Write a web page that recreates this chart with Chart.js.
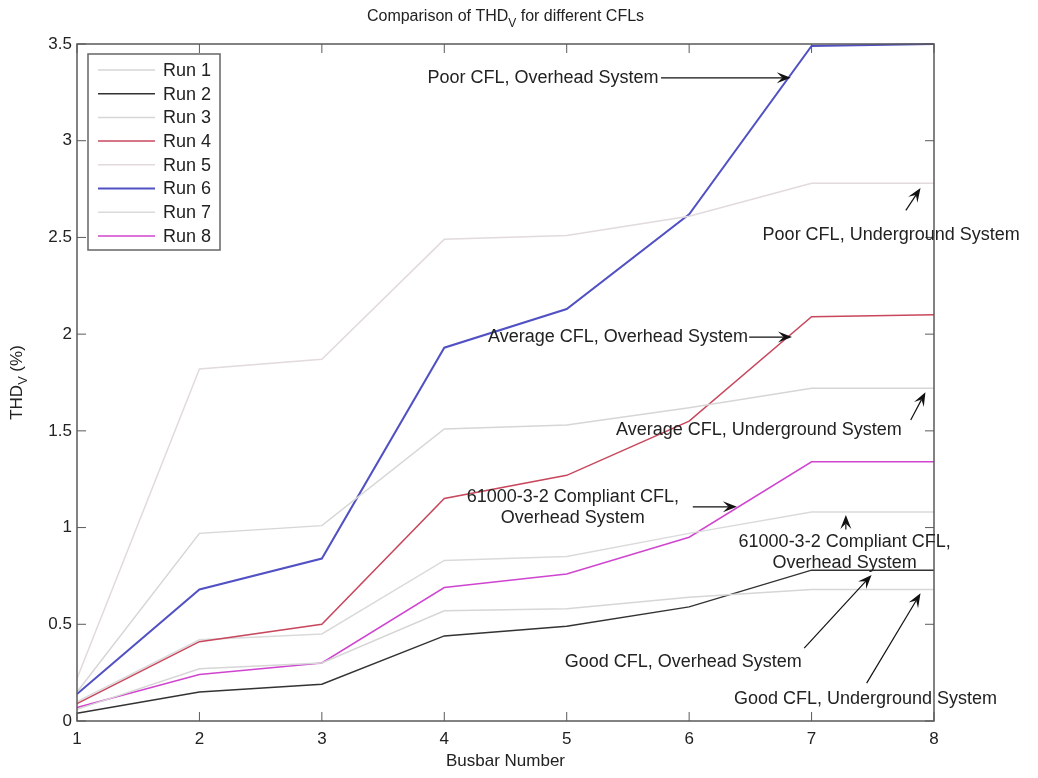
<!DOCTYPE html>
<html>
<head>
<meta charset="utf-8">
<script src="https://cdn.jsdelivr.net/npm/chart.js@4"></script>
<style>
  body { margin: 0; background: #fff; }
  #thd { display: block; }
</style>
</head>
<body>
<canvas id="thd" width="1038" height="778"></canvas>
<script>
// busbar numbers along x
var busbars = [1, 2, 3, 4, 5, 6, 7, 8];
var yTicks = [0, 0.5, 1, 1.5, 2, 2.5, 3, 3.5];

// THDv (%) per run
var run1 = [0.06, 0.27, 0.30, 0.57, 0.58, 0.64, 0.68, 0.68];  // good CFL, underground
var run2 = [0.04, 0.15, 0.19, 0.44, 0.49, 0.59, 0.78, 0.78];  // good CFL, overhead
var run3 = [0.15, 0.97, 1.01, 1.51, 1.53, 1.62, 1.72, 1.72];  // average, underground
var run4 = [0.09, 0.41, 0.50, 1.15, 1.27, 1.55, 2.09, 2.10];  // average, overhead
var run5 = [0.22, 1.82, 1.87, 2.49, 2.51, 2.61, 2.78, 2.78];  // poor, underground
var run6 = [0.14, 0.68, 0.84, 1.93, 2.13, 2.62, 3.49, 3.50];  // poor, overhead
var run7 = [0.10, 0.42, 0.45, 0.83, 0.85, 0.97, 1.08, 1.08];  // 61000-3-2, underground
var run8 = [0.07, 0.24, 0.30, 0.69, 0.76, 0.95, 1.34, 1.34];  // 61000-3-2, overhead

var runNames = ["Run 1", "Run 2", "Run 3", "Run 4", "Run 5", "Run 6", "Run 7", "Run 8"];
var runColors = ["#d6d6d6", "#333333", "#d6d6d6", "#c8475c", "#e2dadc", "#5151c4", "#dadada", "#cf45cf"];
var runWidths = [1.5, 1.5, 1.5, 1.5, 1.5, 2, 1.5, 1.5];

// annotation labels (data coords) with arrows
var notes = [
  { lines: ["Poor CFL, Overhead System"], x: 5.75, y: 3.325, align: "right", from: [5.77, 3.325], to: [6.83, 3.325] },
  { lines: ["Poor CFL, Underground System"], x: 6.60, y: 2.51, align: "left", from: [7.77, 2.64], to: [7.89, 2.755] },
  { lines: ["Average CFL, Overhead System"], x: 6.48, y: 1.985, align: "right", from: [6.49, 1.985], to: [6.84, 1.985] },
  { lines: ["Average CFL, Underground System"], x: 6.57, y: 1.505, align: "center", from: [7.81, 1.556], to: [7.93, 1.70] },
  { lines: ["61000-3-2 Compliant CFL,", "Overhead System"], x: 5.05, y: 1.158, align: "center", from: [6.03, 1.107], to: [6.39, 1.107] },
  { lines: ["61000-3-2 Compliant CFL,", "Overhead System"], x: 7.27, y: 0.925, align: "center", from: [7.28, 0.99], to: [7.28, 1.065] },
  { lines: ["Good CFL, Overhead System"], x: 6.92, y: 0.305, align: "right", from: [6.94, 0.377], to: [7.49, 0.755] },
  { lines: ["Good CFL, Underground System"], x: 7.44, y: 0.114, align: "center", from: [7.45, 0.196], to: [7.89, 0.66] }
];

var FONT = "'Liberation Sans', Arial, sans-serif";
var runs = [run1, run2, run3, run4, run5, run6, run7, run8];

var datasets = runs.map(function (vals, i) {
  return {
    label: runNames[i],
    data: busbars.map(function (b, j) { return { x: b, y: vals[j] }; }),
    borderColor: runColors[i],
    borderWidth: runWidths[i],
    pointRadius: 0,
    fill: false,
    tension: 0,
    clip: false
  };
});

function arrow(ctx, x1, y1, x2, y2) {
  var a = Math.atan2(y2 - y1, x2 - x1);
  var len = 14, half = 5.5;
  var c = Math.cos(a), s = Math.sin(a);
  ctx.beginPath();
  ctx.moveTo(x1, y1);
  ctx.lineTo(x2 - c * len * 0.6, y2 - s * len * 0.6);
  ctx.stroke();
  ctx.beginPath();
  ctx.moveTo(x2, y2);
  ctx.lineTo(x2 - c * len + s * half, y2 - s * len - c * half);
  ctx.lineTo(x2 - c * len * 0.6, y2 - s * len * 0.6);
  ctx.lineTo(x2 - c * len - s * half, y2 - s * len + c * half);
  ctx.closePath();
  ctx.fill();
}

// text with a subscript V in the middle
function subText(ctx, pre, sub, post, cx, cy, size) {
  ctx.font = size + "px " + FONT;
  var w1 = ctx.measureText(pre).width;
  var w3 = ctx.measureText(post).width;
  ctx.font = (size * 0.75) + "px " + FONT;
  var w2 = ctx.measureText(sub).width;
  var x = cx - (w1 + w2 + w3) / 2;
  ctx.textAlign = "left";
  ctx.textBaseline = "middle";
  ctx.font = size + "px " + FONT;
  ctx.fillText(pre, x, cy);
  ctx.font = (size * 0.75) + "px " + FONT;
  ctx.fillText(sub, x + w1, cy + size * 0.4);
  ctx.font = size + "px " + FONT;
  ctx.fillText(post, x + w1 + w2, cy);
}

var matlabLook = {
  id: "matlabLook",
  afterDatasetsDraw: function (chart) {
    var ctx = chart.ctx, a = chart.chartArea;
    var xs = chart.scales.x, ys = chart.scales.y;
    ctx.save();
    ctx.strokeStyle = "#5a5a5a";
    ctx.lineWidth = 1.5;
    ctx.strokeRect(a.left, a.top, a.right - a.left, a.bottom - a.top);
    ctx.lineWidth = 1;
    ctx.beginPath();
    busbars.forEach(function (b) {
      var px = xs.getPixelForValue(b);
      ctx.moveTo(px, a.bottom); ctx.lineTo(px, a.bottom - 9);
      ctx.moveTo(px, a.top); ctx.lineTo(px, a.top + 9);
    });
    yTicks.forEach(function (v) {
      var py = ys.getPixelForValue(v);
      ctx.moveTo(a.left, py); ctx.lineTo(a.left + 9, py);
      ctx.moveTo(a.right, py); ctx.lineTo(a.right - 9, py);
    });
    ctx.stroke();
    ctx.restore();
  },
  afterDraw: function (chart) {
    var ctx = chart.ctx, a = chart.chartArea;
    var xs = chart.scales.x, ys = chart.scales.y;
    ctx.save();
    ctx.fillStyle = "#222";

    // title and y label
    subText(ctx, "Comparison of THD", "V", " for different CFLs", (a.left + a.right) / 2, 17, 16);
    ctx.save();
    ctx.translate(17, (a.top + a.bottom) / 2);
    ctx.rotate(-Math.PI / 2);
    subText(ctx, "THD", "V", " (%)", 0, 0, 17);
    ctx.restore();

    // legend box
    var lx = a.left + 11, ly = a.top + 10, lw = 132, lh = 196;
    ctx.fillStyle = "#fff";
    ctx.fillRect(lx, ly, lw, lh);
    ctx.strokeStyle = "#666";
    ctx.lineWidth = 1.5;
    ctx.strokeRect(lx, ly, lw, lh);
    ctx.font = "18px " + FONT;
    ctx.textAlign = "left";
    ctx.textBaseline = "middle";
    chart.data.datasets.forEach(function (ds, i) {
      var yy = ly + 16 + i * 23.7;
      ctx.strokeStyle = ds.borderColor;
      ctx.lineWidth = ds.borderWidth;
      ctx.beginPath();
      ctx.moveTo(lx + 10, yy); ctx.lineTo(lx + 67, yy);
      ctx.stroke();
      ctx.fillStyle = "#222";
      ctx.fillText(ds.label, lx + 75, yy + 1);
    });

    // annotations
    ctx.font = "18px " + FONT;
    ctx.strokeStyle = "#111";
    ctx.lineWidth = 1.2;
    notes.forEach(function (n) {
      ctx.textAlign = n.align;
      ctx.textBaseline = "middle";
      var px = xs.getPixelForValue(n.x), py = ys.getPixelForValue(n.y);
      n.lines.forEach(function (t, k) {
        ctx.fillStyle = "#222";
        ctx.fillText(t, px, py + k * 21);
      });
      ctx.fillStyle = "#111";
      arrow(ctx, xs.getPixelForValue(n.from[0]), ys.getPixelForValue(n.from[1]),
        xs.getPixelForValue(n.to[0]), ys.getPixelForValue(n.to[1]));
    });
    ctx.restore();
  }
};

var ctx = document.getElementById("thd").getContext("2d");
var thdChart = new Chart(ctx, {
  type: "line",
  data: { datasets: datasets },
  plugins: [matlabLook],
  options: {
    responsive: false,
    animation: false,
    layout: { padding: { top: 44, right: 104, left: 0, bottom: 0 } },
    plugins: { legend: { display: false }, tooltip: { enabled: false } },
    scales: {
      x: {
        type: "linear",
        min: 1,
        max: 8,
        grid: { display: false, drawTicks: false },
        border: { display: false },
        ticks: { stepSize: 1, color: "#222", font: { family: FONT, size: 17 }, padding: 8, maxRotation: 0 },
        title: { display: true, text: "Busbar Number", color: "#222", font: { family: FONT, size: 17 }, padding: { top: 0, bottom: 6 } },
        afterFit: function (s) { s.height = 57; }
      },
      y: {
        min: 0,
        max: 3.5,
        grid: { display: false, drawTicks: false },
        border: { display: false },
        ticks: {
          stepSize: 0.5, color: "#222", font: { family: FONT, size: 17 }, padding: 5,
          callback: function (v) { return String(v); }
        },
        afterFit: function (s) { s.width = 77; }
      }
    }
  }
});
</script>
</body>
</html>
